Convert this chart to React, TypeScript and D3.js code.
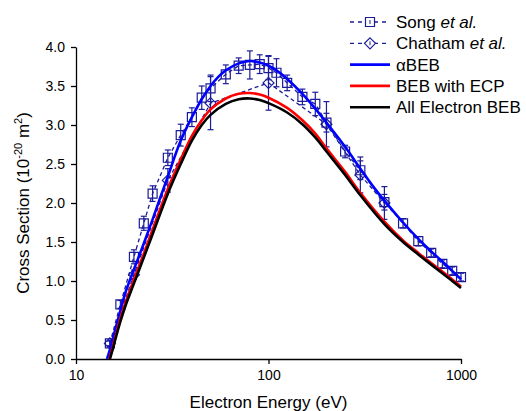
import * as d3 from "d3";
import React, { useRef, useEffect } from "react";

const W = 526;
const H = 411;
const margin = { top: 47, right: 65, bottom: 52, left: 76 };

// Song et al. (squares)
const songE = [15, 17, 20, 22.5, 25, 30, 35, 40, 45, 50, 60, 70, 80, 90, 100, 110, 125, 150, 175, 200, 250, 300, 400, 500, 600, 700, 800, 900, 1000];
const songCS = [0.2, 0.7, 1.31, 1.74, 2.12, 2.58, 2.87, 3.1, 3.35, 3.47, 3.65, 3.76, 3.77, 3.78, 3.73, 3.67, 3.54, 3.36, 3.27, 3.03, 2.66, 2.42, 2.01, 1.74, 1.51, 1.36, 1.22, 1.13, 1.05];
const songErr = [0.03, 0.05, 0.09, 0.09, 0.1, 0.1, 0.14, 0.12, 0.15, 0.17, 0.12, 0.1, 0.18, 0.12, 0.15, 0.18, 0.1, 0.1, 0.15, 0.12, 0.08, 0.12, 0.1, 0.06, 0.06, 0.05, 0.05, 0.05, 0.05];

// Chatham et al. (diamonds)
const chathamE = [15, 20, 30, 50, 100, 200, 300, 400];
const chathamCS = [0.2, 1.08, 2.29, 3.28, 3.54, 3.01, 2.36, 2.0];
const chathamErr = [0.04, 0.06, 0.15, 0.34, 0.35, 0.29, 0.23, 0.21];

// alpha BEB
const abebE = [14.5, 15, 16, 17, 18, 20, 22.5, 25, 27.5, 30, 35, 40, 45, 50, 55, 60, 70, 80, 90, 100, 110, 125, 150, 175, 200, 250, 300, 350, 400, 500, 600, 700, 800, 900, 1000];
const abebCS = [0, 0.12, 0.38, 0.62, 0.84, 1.15, 1.48, 1.79, 2.08, 2.34, 2.8, 3.1, 3.33, 3.5, 3.62, 3.7, 3.79, 3.82, 3.8, 3.76, 3.7, 3.59, 3.4, 3.21, 3.03, 2.72, 2.44, 2.21, 2.03, 1.75, 1.54, 1.38, 1.25, 1.13, 1.02];

// BEB with ECP
const ecpE = [14.9, 15.5, 16, 17, 18, 20, 22.5, 25, 30, 35, 40, 45, 50, 60, 70, 80, 90, 100, 125, 150, 175, 200, 250, 300, 400, 500, 600, 700, 800, 900, 1000];
const ecpCS = [0, 0.15, 0.28, 0.52, 0.71, 1.02, 1.35, 1.66, 2.18, 2.56, 2.86, 3.06, 3.2, 3.34, 3.4, 3.41, 3.39, 3.35, 3.22, 3.06, 2.89, 2.7, 2.4, 2.13, 1.76, 1.52, 1.36, 1.23, 1.12, 1.02, 0.93];

// All electron BEB
const allE = [15, 15.5, 16, 17, 18, 20, 22.5, 25, 30, 35, 40, 45, 50, 60, 70, 80, 90, 100, 125, 150, 175, 200, 250, 300, 400, 500, 600, 700, 800, 900, 1000];
const allCS = [0, 0.12, 0.25, 0.48, 0.67, 0.97, 1.3, 1.6, 2.12, 2.5, 2.8, 3.0, 3.13, 3.27, 3.33, 3.34, 3.32, 3.28, 3.16, 3.01, 2.84, 2.66, 2.36, 2.1, 1.73, 1.5, 1.34, 1.21, 1.1, 1.0, 0.91];

const xMajor = [10, 100, 1000];
const xMinor = [20, 30, 40, 50, 60, 70, 80, 90, 200, 300, 400, 500, 600, 700, 800, 900];
const yMajor = [0, 0.5, 1, 1.5, 2, 2.5, 3, 3.5, 4];
const yMinor = [0.25, 0.75, 1.25, 1.75, 2.25, 2.75, 3.25, 3.75];

const navy = "#1c1c98";
const font = "Arial, 'Liberation Sans', sans-serif";
const squarePath = "M-4.5,-4.5H4.5V4.5H-4.5Z";
const diamondPath = "M0,-5.5L5.5,0L0,5.5L-5.5,0Z";

function App() {
  const ref = useRef(null);

  useEffect(() => {
    const svg = d3.select(ref.current);
    svg.selectAll("*").remove();

    const x = d3.scaleLog().domain([10, 1000]).range([margin.left, W - margin.right]);
    const y = d3.scaleLinear().domain([0, 4]).range([H - margin.bottom, margin.top]);

    const line = d3
      .line()
      .x((d) => x(d[0]))
      .y((d) => y(d[1]))
      .curve(d3.curveCatmullRom.alpha(0.5));
    const straight = d3
      .line()
      .x((d) => x(d[0]))
      .y((d) => y(d[1]));

    const pairs = (es, vs) => es.map((e, i) => [e, vs[i]]);

    // axes
    const gx = svg.append("g").attr("transform", `translate(0,${y(0)})`);
    gx.call(d3.axisBottom(x).tickValues(xMinor).tickSize(3).tickFormat(() => "").tickSizeOuter(0));
    gx.call(d3.axisBottom(x).tickValues(xMajor).tickSize(5).tickPadding(6).tickFormat(d3.format("d")).tickSizeOuter(0));
    const gy = svg.append("g").attr("transform", `translate(${x(10)},0)`);
    gy.call(d3.axisLeft(y).tickValues(yMinor).tickSize(3).tickFormat(() => "").tickSizeOuter(0));
    gy.call(d3.axisLeft(y).tickValues(yMajor).tickSize(5).tickPadding(6).tickFormat(d3.format(".1f")).tickSizeOuter(0));
    svg.selectAll(".domain, .tick line").attr("stroke", "#000").attr("stroke-width", 1.3);
    svg.selectAll(".tick text").attr("font-family", font).attr("font-size", 14).attr("fill", "#000");

    // axis titles
    svg
      .append("text")
      .attr("x", (x(10) + x(1000)) / 2)
      .attr("y", 408)
      .attr("text-anchor", "middle")
      .attr("font-family", font)
      .attr("font-size", 17)
      .text("Electron Energy (eV)");

    const yt = svg
      .append("text")
      .attr("transform", `translate(29,${(y(0) + y(4)) / 2}) rotate(-90)`)
      .attr("text-anchor", "middle")
      .attr("font-family", font)
      .attr("font-size", 17);
    yt.append("tspan").text("Cross Section (10");
    yt.append("tspan").attr("dy", -7).attr("font-size", 11).text("-20");
    yt.append("tspan").attr("dy", 7).text(" m");
    yt.append("tspan").attr("dy", -7).attr("font-size", 11).text("2");
    yt.append("tspan").attr("dy", 7).text(")");

    const plot = svg.append("g");

    // experimental data
    const drawData = (es, vs, errs, shape) => {
      const pts = pairs(es, vs);
      plot
        .append("path")
        .attr("d", straight(pts))
        .attr("fill", "none")
        .attr("stroke", navy)
        .attr("stroke-width", 1.3)
        .attr("stroke-dasharray", "4,3");
      const g = plot.append("g").attr("stroke", navy).attr("stroke-width", 1.2).attr("fill", "none");
      pts.forEach((p, i) => {
        const cx = x(p[0]);
        const top = y(p[1] + errs[i]);
        const bot = y(p[1] - errs[i]);
        g.append("line").attr("x1", cx).attr("x2", cx).attr("y1", top).attr("y2", bot);
        g.append("line").attr("x1", cx - 3).attr("x2", cx + 3).attr("y1", top).attr("y2", top);
        g.append("line").attr("x1", cx - 3).attr("x2", cx + 3).attr("y1", bot).attr("y2", bot);
      });
      pts.forEach((p) => {
        g.append("path")
          .attr("transform", `translate(${x(p[0])},${y(p[1])})`)
          .attr("d", shape === "square" ? squarePath : diamondPath);
      });
    };
    drawData(songE, songCS, songErr, "square");
    drawData(chathamE, chathamCS, chathamErr, "diamond");

    // theory curves
    [
      [abebE, abebCS, "#0000ff"],
      [ecpE, ecpCS, "#ff0000"],
      [allE, allCS, "#000000"],
    ].forEach(([es, vs, c]) => {
      plot
        .append("path")
        .attr("d", line(pairs(es, vs)))
        .attr("fill", "none")
        .attr("stroke", c)
        .attr("stroke-width", 2.6);
    });

    // legend
    const legend = [
      { name: "Song", ital: " et al.", kind: "square" },
      { name: "Chatham", ital: " et al.", kind: "diamond" },
      { name: "\u03b1BEB", ital: "", kind: "#0000ff" },
      { name: "BEB with ECP", ital: "", kind: "#ff0000" },
      { name: "All Electron BEB", ital: "", kind: "#000000" },
    ];
    const lg = svg.append("g");
    legend.forEach((d, i) => {
      const ly = 22 + i * 21.3;
      const row = lg.append("g").attr("transform", `translate(0,${ly})`);
      if (d.kind === "square" || d.kind === "diamond") {
        row.append("line").attr("x1", 350).attr("x2", 390).attr("stroke", navy).attr("stroke-width", 1.3).attr("stroke-dasharray", "4,4");
        row
          .append("path")
          .attr("transform", "translate(370,0)")
          .attr("d", d.kind === "square" ? squarePath : diamondPath)
          .attr("fill", "#fff")
          .attr("stroke", navy)
          .attr("stroke-width", 1.2);
        row.append("line").attr("x1", 370).attr("x2", 370).attr("y1", -2).attr("y2", 2).attr("stroke", navy);
      } else {
        row.append("line").attr("x1", 350).attr("x2", 390).attr("stroke", d.kind).attr("stroke-width", 2.6);
      }
      const t = row
        .append("text")
        .attr("x", 396)
        .attr("dy", "0.35em")
        .attr("font-family", font)
        .attr("font-size", 17);
      t.append("tspan").text(d.name);
      if (d.ital) t.append("tspan").attr("font-style", "italic").text(d.ital);
    });
  }, []);

  return (
    <div style={{ position: "absolute", left: 0, top: 0, background: "#fff" }}>
      <svg ref={ref} width={W} height={H}></svg>
    </div>
  );
}

export default App;
